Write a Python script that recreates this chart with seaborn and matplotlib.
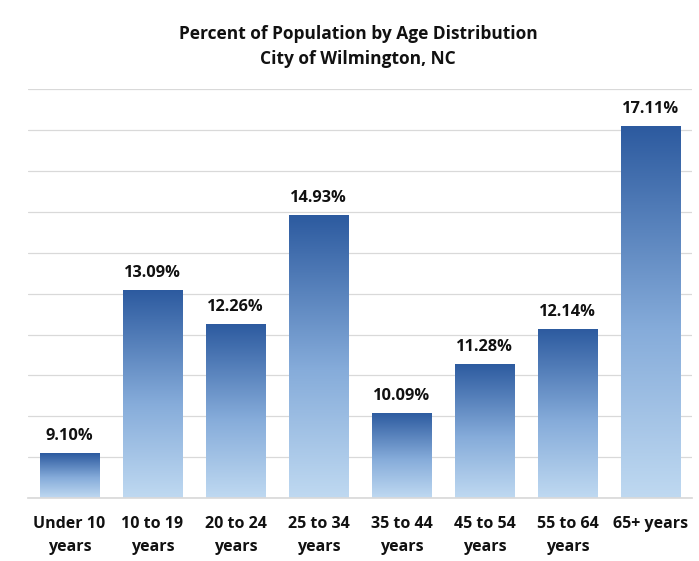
import numpy as np
import pandas as pd
import matplotlib
matplotlib.use("Agg")
import matplotlib.pyplot as plt
import seaborn as sns
from matplotlib.colors import LinearSegmentedColormap

categories = ["Under 10\nyears", "10 to 19\nyears", "20 to 24\nyears", "25 to 34\nyears",
              "35 to 44\nyears", "45 to 54\nyears", "55 to 64\nyears", "65+ years"]
values = [9.10, 13.09, 12.26, 14.93, 10.09, 11.28, 12.14, 17.11]
labels = ["9.10%", "13.09%", "12.26%", "14.93%", "10.09%", "11.28%", "12.14%", "17.11%"]
title = "Percent of Population by Age Distribution\nCity of Wilmington, NC"

sns.set_theme(style="white")
plt.rcParams["font.family"] = ["Open Sans", "DejaVu Sans"]

df = pd.DataFrame({"cat": categories, "val": values})

fig = plt.figure(figsize=(6.99, 5.61), dpi=100)
ax = fig.add_axes([0.040, 0.112, 0.950, 0.729])

sns.barplot(data=df, x="cat", y="val", ax=ax, width=0.72, color="#2E5B9E", edgecolor="none")
ax.set_ylim(8, 18)
ax.set_xlim(-0.5, len(categories) - 0.5)

cmap = LinearSegmentedColormap.from_list("g", [(0, "#BFD9F1"), (0.45, "#86ACDA"), (1, "#2C5A9F")])
grad = np.linspace(0, 1, 256).reshape(-1, 1)
for p in ax.patches:
    x0, y0 = p.get_x(), p.get_y()
    w, h = p.get_width(), p.get_height()
    ylo = ax.get_ylim()[0]
    im = ax.imshow(grad, cmap=cmap, aspect="auto", origin="lower",
                   extent=[x0, x0 + w, ylo, y0 + h], zorder=2)
    im.set_clip_path(p)
    p.set_facecolor("none")

for i, (v, lab) in enumerate(zip(values, labels)):
    ax.text(i, v + 0.22, lab, ha="center", va="bottom", fontsize=11.8, fontweight="bold", color="#111111")

ax.set_yticks(np.arange(8, 19, 1))
ax.yaxis.grid(True, color="#D9D9D9", linewidth=0.9)
ax.set_axisbelow(True)
ax.set_yticklabels([])
ax.tick_params(axis="y", length=0)
ax.tick_params(axis="x", length=0, pad=13)
for lbl in ax.get_xticklabels():
    lbl.set_fontsize(11.5)
    lbl.set_fontweight("bold")
    lbl.set_color("#111111")
    lbl.set_linespacing(1.55)
ax.set_xlabel("")
ax.set_ylabel("")
for s in ["top", "right", "left"]:
    ax.spines[s].set_visible(False)
ax.spines["bottom"].set_color("#D9D9D9")

fig.text(0.512, 0.918, title, ha="center", va="center", fontsize=12.5, fontweight="bold",
         color="#111111", linespacing=1.5)

fig.savefig("out.png", dpi=100, facecolor="white")
